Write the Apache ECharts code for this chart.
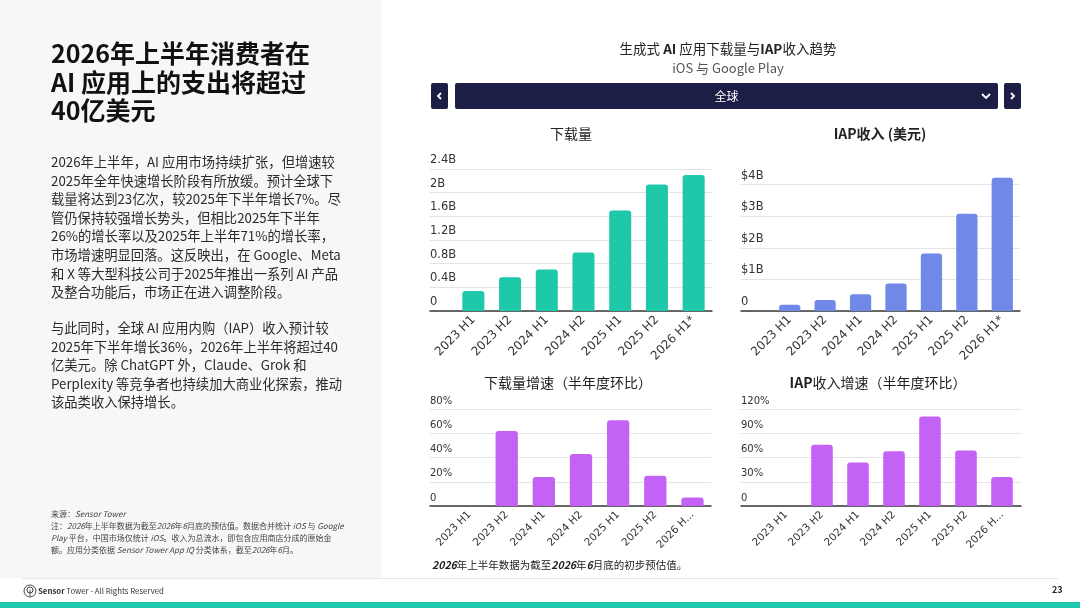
<!DOCTYPE html>
<html>
<head>
<meta charset="utf-8">
<script src="https://cdn.jsdelivr.net/npm/echarts@6/dist/echarts.min.js"></script>
<style>
  html, body { margin:0; padding:0; width:1080px; height:608px; overflow:hidden; background:#fff;
    font-family:"Noto Sans CJK SC","Noto Sans",sans-serif; color:#222; }
  #left { position:absolute; left:0; top:0; width:382px; height:578px; background:#f7f7f7; }
  .abs { position:absolute; white-space:nowrap; }
  #ttl { left:51px; top:38px; font-size:25px; font-weight:700; line-height:28.5px; color:#111; }
  .body { left:51px; font-size:13.3px; line-height:18.6px; color:#2b2b2b; }
  #notes { left:51px; top:508px; font-size:8px; line-height:12px; color:#444; }
  #notes i { font-style:italic; }
  #chart { position:absolute; left:0; top:0; width:1080px; height:608px; }
  #hdr1 { left:0; width:1456px; top:38px; font-size:13.5px; text-align:center; color:#222; }
  #hdr2 { left:0; width:1456px; top:58px; font-size:13px; text-align:center; color:#555; }
  .btn { position:absolute; top:83px; height:26px; background:#1c1e46; border-radius:2px; color:#fff; }
  #foot { left:38px; top:585px; font-size:7.8px; color:#333; }
  #pg { left:1052px; top:583px; font-size:9px; font-weight:700; color:#222; }
  #note2 { left:432px; top:557px; font-size:10.5px; color:#222; }
</style>
</head>
<body>
<div id="left"></div>
<div id="chart"></div>

<div class="abs" id="ttl">2026年上半年消费者在<br>AI 应用上的支出将超过<br>40亿美元</div>

<div class="abs body" style="top:153px;">2026年上半年，AI 应用市场持续扩张，但增速较<br>2025年全年快速增长阶段有所放缓。预计全球下<br>载量将达到23亿次，较2025年下半年增长7%。尽<br>管仍保持较强增长势头，但相比2025年下半年<br>26%的增长率以及2025年上半年71%的增长率，<br>市场增速明显回落。这反映出，在 Google、Meta<br>和 X 等大型科技公司于2025年推出一系列 AI 产品<br>及整合功能后，市场正在进入调整阶段。</div>

<div class="abs body" style="top:319px;">与此同时，全球 AI 应用内购（IAP）收入预计较<br>2025年下半年增长36%，2026年上半年将超过40<br>亿美元。除 ChatGPT 外，Claude、Grok 和<br>Perplexity 等竞争者也持续加大商业化探索，推动<br>该品类收入保持增长。</div>

<div class="abs" id="notes">来源：<i>Sensor Tower</i><br>注：<i>2026</i>年上半年数据为截至<i>2026</i>年<i>6</i>月底的预估值。数据合并统计 <i>iOS</i> 与 <i>Google</i><br><i>Play</i> 平台，中国市场仅统计 <i>iOS</i>。收入为总流水，即包含应用商店分成的原始金<br>额。应用分类依据 <i>Sensor Tower App IQ</i> 分类体系，截至<i>2026</i>年<i>6</i>月。</div>

<div style="position:absolute;left:22px;top:578px;width:1036px;height:1px;background:#e6e6e6;"></div>
<div style="position:absolute;left:0;top:602px;width:1080px;height:6px;background:#1ec8ad;"></div>
<svg style="position:absolute;left:23px;top:584px;" width="14" height="14" viewBox="0 0 14 14">
  <circle cx="7" cy="7" r="6" fill="none" stroke="#444" stroke-width="1"/>
  <circle cx="7" cy="6" r="3" fill="none" stroke="#444" stroke-width="1"/>
  <line x1="7" y1="6" x2="7" y2="12" stroke="#444" stroke-width="1"/>
</svg>
<div class="abs" id="foot"><b>Sensor</b> Tower - All Rights Reserved</div>
<div class="abs" id="pg">23</div>

<div class="abs" id="hdr1">生成式 <b>AI</b> 应用下载量与<b>IAP</b>收入趋势</div>
<div class="abs" id="hdr2">iOS 与 Google Play</div>
<div class="btn" style="left:431px;width:17px;"><svg width="17" height="26"><polyline points="10,10 7,13 10,16" fill="none" stroke="#fff" stroke-width="1.8"/></svg></div>
<div class="btn" style="left:455px;width:543px;"><div style="position:absolute;left:0;width:543px;top:4px;text-align:center;font-size:12px;">全球</div><svg style="position:absolute;left:524px;top:0" width="14" height="26"><polyline points="3,11 7,15 11,11" fill="none" stroke="#fff" stroke-width="1.8"/></svg></div>
<div class="btn" style="left:1004px;width:17px;"><svg width="17" height="26"><polyline points="7,10 10,13 7,16" fill="none" stroke="#fff" stroke-width="1.8"/></svg></div>

<div class="abs" id="note2"><b><i>2026</i></b>年上半年数据为截至<b><i>2026</i></b>年<b><i>6</i></b>月底的初步预估值。</div>

<script>
// ---- data ----
const categories = ['2023 H1', '2023 H2', '2024 H1', '2024 H2', '2025 H1', '2025 H2', '2026 H1*'];
const downloadsB = [0.34, 0.57, 0.70, 0.99, 1.70, 2.14, 2.30];          // billions
const iapRevenueB = [0.20, 0.35, 0.53, 0.87, 1.82, 3.08, 4.22];         // billions USD
const downloadGrowthPct = [0, 62, 24, 43, 71, 25, 7];                    // % HoH
const iapGrowthPct = [0, 76, 54, 68, 111, 69, 36];                       // % HoH
const chartTitles = ['下载量', '{b|IAP收入 (美元)}', '下载量增速（半年度环比）', '{b|IAP}收入增速（半年度环比）'];

const COL_TEAL = '#1ec8a8', COL_BLUE = '#7089e8', COL_PURPLE = '#c462f5';
const FONT = 'DejaVu Sans';

const panels = [
  { bg: [430, 169, 282, 142], bar: [455, 169, 257, 142], max: 2.4, bgMax: 2.4, interval: 0.4,
    fmt: v => v === 0 ? '0' : (Math.round(v * 10) / 10) + 'B', data: downloadsB, color: COL_TEAL, fs: 11.5, xfs: 12,
    xfmt: s => s },
  { bg: [741, 184.7, 279, 126.3], bar: [772, 172, 248, 139], max: 4.4, bgMax: 4, interval: 1,
    fmt: v => v === 0 ? '0' : '$' + v + 'B', data: iapRevenueB, color: COL_BLUE, fs: 11.5, xfs: 12,
    xfmt: s => s },
  { bg: [430, 409.3, 281, 96.7], bar: [451, 409.3, 260, 96.7], max: 80, bgMax: 80, interval: 20,
    fmt: v => v === 0 ? '0' : v + '%', data: downloadGrowthPct, color: COL_PURPLE, fs: 10, xfs: 10.5,
    xfmt: s => s.endsWith('*') ? s.slice(0, 6) + '...' : s },
  { bg: [741, 409.3, 280, 96.7], bar: [768, 409.3, 252, 96.7], max: 120, bgMax: 120, interval: 30,
    fmt: v => v === 0 ? '0' : v + '%', data: iapGrowthPct, color: COL_PURPLE, fs: 10, xfs: 10.5,
    xfmt: s => s.endsWith('*') ? s.slice(0, 6) + '...' : s }
];

const grid = [], xAxis = [], yAxis = [], series = [];
panels.forEach((p, i) => {
  const gi = grid.length;
  grid.push({ left: p.bg[0], top: p.bg[1], width: p.bg[2], height: p.bg[3] });
  grid.push({ left: p.bar[0], top: p.bar[1], width: p.bar[2], height: p.bar[3] });
  // background grid: gridlines + labels + axis line
  xAxis.push({ gridIndex: gi, type: 'value', min: 0, max: 1, axisLabel: { show: false }, splitLine: { show: false },
    axisTick: { show: false }, axisLine: { show: true, lineStyle: { color: '#3a3a3a', width: 1.5 } } });
  yAxis.push({ gridIndex: gi, type: 'value', min: 0, max: p.bgMax, interval: p.interval,
    axisLine: { show: false }, axisTick: { show: false },
    splitLine: { show: true, lineStyle: { color: '#e4e4e4', width: 1 } },
    axisLabel: { inside: true, margin: 0, align: 'left', verticalAlign: 'bottom', padding: [0, 0, 3, 0],
      color: '#333', fontFamily: FONT, fontSize: p.fs, formatter: p.fmt } });
  // bar grid
  xAxis.push({ gridIndex: gi + 1, type: 'category', data: categories,
    axisLine: { show: false }, axisTick: { show: false },
    axisLabel: { interval: 0, rotate: 45, margin: 7, color: '#333', fontFamily: FONT, fontSize: p.xfs, formatter: p.xfmt } });
  yAxis.push({ gridIndex: gi + 1, type: 'value', min: 0, max: p.max, show: false, splitLine: { show: false } });
  series.push({ type: 'bar', xAxisIndex: gi + 1, yAxisIndex: gi + 1, data: p.data, barWidth: '60%',
    itemStyle: { color: p.color, borderRadius: [3, 3, 0, 0] }, silent: true, animation: false });
});

const titleRich = { b: { fontWeight: 'bold', fontSize: 14, fontFamily: 'Noto Sans CJK SC', fill: '#222' } };
const titlePos = [[571, 134], [880, 134], [568, 383], [878, 383]];
const graphic = titlePos.map((pos, i) => ({
  type: 'text', x: pos[0], y: pos[1], silent: true,
  style: { text: chartTitles[i], align: 'center', verticalAlign: 'middle', fontSize: 14,
    fontFamily: 'Noto Sans CJK SC', fill: '#222', rich: titleRich }
}));

const chart = echarts.init(document.getElementById('chart'), null, { renderer: 'canvas' });
chart.setOption({ animation: false, backgroundColor: 'transparent', grid, xAxis, yAxis, series, graphic });
</script>
</body>
</html>
